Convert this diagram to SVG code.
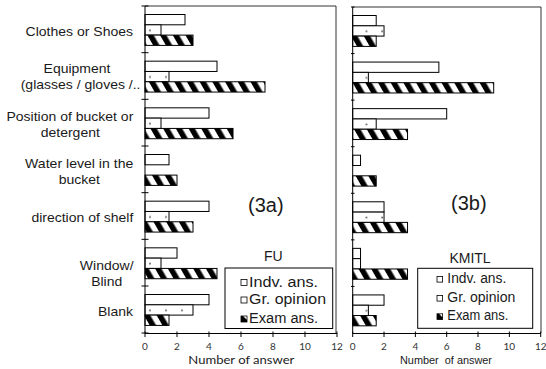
<svg xmlns="http://www.w3.org/2000/svg" width="546" height="369" viewBox="0 0 546 369">
<defs>
<pattern id="hatch" patternUnits="userSpaceOnUse" width="11" height="11" patternTransform="rotate(-30)">
<rect width="11" height="11" fill="#fff"/>
<rect width="5.5" height="11" fill="#000"/>
</pattern>
<pattern id="dotsL" patternUnits="userSpaceOnUse" x="145" y="6" width="16" height="46.667">
<rect width="16" height="46.667" fill="#fff"/>
<circle cx="5" cy="24.3" r="0.9" fill="#555"/>
</pattern>
<pattern id="dotsR" patternUnits="userSpaceOnUse" x="352.7" y="7" width="15.67" height="46.57">
<rect width="15.67" height="46.57" fill="#fff"/>
<circle cx="13.8" cy="24.3" r="0.9" fill="#555"/>
</pattern>
</defs>
<style>
rect.b{stroke:#000;stroke-width:1;height:10.3px}
.i{fill:#fff}
.gl{fill:url(#dotsL)}
.gr{fill:url(#dotsR)}
.e{fill:url(#hatch)}
.ax{stroke:#000;stroke-width:1;fill:none}
.frame{stroke:#333;stroke-width:1;fill:none}
text{font-family:"Liberation Sans",Arial,sans-serif;fill:#1a1a1a}
.cat{font-size:13.5px}
.end{text-anchor:end}
.mid{text-anchor:middle}
.tk{font-family:Lato,"Open Sans",sans-serif;font-size:10px;text-anchor:middle;fill:#333}
.lg{font-size:14px}
.big{font-size:20px}
</style>
<rect width="546" height="369" fill="#fff"/>

<g id="category-labels">
<text class="cat end" x="133" y="35.5" textLength="107.4" lengthAdjust="spacingAndGlyphs">Clothes or Shoes</text>
<text class="cat mid" x="77" y="72.5" textLength="66.9" lengthAdjust="spacingAndGlyphs">Equipment</text>
<text class="cat" x="20.7" y="89" textLength="119.8" lengthAdjust="spacingAndGlyphs">(glasses / gloves /..</text>
<text class="cat end" x="133.3" y="121.3" textLength="126.8" lengthAdjust="spacingAndGlyphs">Position of bucket or</text>
<text class="cat mid" x="70.3" y="136.8" textLength="59.2" lengthAdjust="spacingAndGlyphs">detergent</text>
<text class="cat end" x="133.3" y="168" textLength="108.2" lengthAdjust="spacingAndGlyphs">Water level in the</text>
<text class="cat mid" x="79.3" y="183.5" textLength="41.2" lengthAdjust="spacingAndGlyphs">bucket</text>
<text class="cat end" x="133.3" y="222" textLength="101.9" lengthAdjust="spacingAndGlyphs">direction of shelf</text>
<text class="cat mid" x="106.7" y="270.3" textLength="53.7" lengthAdjust="spacingAndGlyphs">Window/</text>
<text class="cat mid" x="106.7" y="285.8" textLength="31.1" lengthAdjust="spacingAndGlyphs">Blind</text>
<text class="cat end" x="133" y="316" textLength="35" lengthAdjust="spacingAndGlyphs">Blank</text>
</g>

<g id="chart-3a">
<path class="frame" d="M145 6H336V333"/>
<g id="bars-3a">
<rect class="b i" x="145" y="14.5" width="40"/>
<rect class="b gl" x="145" y="24.8" width="16"/>
<rect class="b e" x="145" y="35.1" width="48"/>
<rect class="b i" x="145" y="61.17" width="72"/>
<rect class="b gl" x="145" y="71.47" width="24"/>
<rect class="b e" x="145" y="81.77" width="120"/>
<rect class="b i" x="145" y="107.83" width="64"/>
<rect class="b gl" x="145" y="118.13" width="16"/>
<rect class="b e" x="145" y="128.43" width="88"/>
<rect class="b i" x="145" y="154.5" width="24"/>
<rect class="b e" x="145" y="175.1" width="32"/>
<rect class="b i" x="145" y="201.17" width="64"/>
<rect class="b gl" x="145" y="211.47" width="24"/>
<rect class="b e" x="145" y="221.77" width="48"/>
<rect class="b i" x="145" y="247.83" width="32"/>
<rect class="b gl" x="145" y="258.13" width="16"/>
<rect class="b e" x="145" y="268.43" width="72"/>
<rect class="b i" x="145" y="294.5" width="64"/>
<rect class="b gl" x="145" y="304.8" width="48"/>
<rect class="b e" x="145" y="315.1" width="24"/>
</g>
<path class="ax" d="M145 6V333.5H337M141.5 6H148.5M141.5 52.67H148.5M141.5 99.33H148.5M141.5 146H148.5M141.5 192.67H148.5M141.5 239.33H148.5M141.5 286H148.5M141.5 333H148.5M145 331.5V337M177 331.5V337M209 331.5V337M241 331.5V337M273 331.5V337M305 331.5V337M337 331.5V337"/>
<text class="tk" x="145" y="349.5">0</text>
<text class="tk" x="177" y="349.5">2</text>
<text class="tk" x="209" y="349.5">4</text>
<text class="tk" x="241" y="349.5">6</text>
<text class="tk" x="273" y="349.5">8</text>
<text class="tk" x="305" y="349.5">10</text>
<text class="tk" x="337" y="349.5">12</text>
<text x="188.3" y="364" style="font-family:Lato,'Open Sans',sans-serif;font-size:11.5px;fill:#222" textLength="106" lengthAdjust="spacingAndGlyphs">Number of answer</text>
<text class="big" x="248" y="212">(3a)</text>
<g id="legend-3a">
<rect x="225" y="268" width="107.7" height="60.5" fill="#fff" stroke="#000" stroke-width="1"/>
<text class="mid" x="273.3" y="261" style="font-size:14px">FU</text>
<rect x="241" y="279.5" width="6" height="6" fill="#fff" stroke="#000" stroke-width="0.8"/>
<rect x="241" y="297" width="6" height="6" fill="#fff" stroke="#000" stroke-width="0.8"/>
<rect x="241" y="316" width="6" height="6" fill="#fff" stroke="#000" stroke-width="0.8"/>
<polygon points="241,316 243,316 247,320 247,322 241,322" fill="#000"/>
<text class="lg" x="249" y="286.5" textLength="69" lengthAdjust="spacingAndGlyphs">Indv. ans.</text>
<text class="lg" x="249" y="304" textLength="77" lengthAdjust="spacingAndGlyphs">Gr. opinion</text>
<text class="lg" x="249" y="323" textLength="69" lengthAdjust="spacingAndGlyphs">Exam ans.</text>
</g>
</g>

<g id="chart-3b">
<path class="frame" d="M352.7 7H541V333"/>
<g id="bars-3b">
<rect class="b i" x="352.7" y="15.5" width="23.5"/>
<rect class="b gr" x="352.7" y="25.8" width="31.33"/>
<rect class="b e" x="352.7" y="36.1" width="23.5"/>
<rect class="b i" x="352.7" y="62.07" width="86.17"/>
<rect class="b gr" x="352.7" y="72.37" width="15.67"/>
<rect class="b e" x="352.7" y="82.67" width="141"/>
<rect class="b i" x="352.7" y="108.64" width="94"/>
<rect class="b gr" x="352.7" y="118.94" width="23.5"/>
<rect class="b e" x="352.7" y="129.24" width="54.83"/>
<rect class="b i" x="352.7" y="155.21" width="7.83"/>
<rect class="b e" x="352.7" y="175.81" width="23.5"/>
<rect class="b i" x="352.7" y="201.79" width="31.33"/>
<rect class="b gr" x="352.7" y="212.09" width="31.33"/>
<rect class="b e" x="352.7" y="222.39" width="54.83"/>
<rect class="b i" x="352.7" y="248.36" width="7.83"/>
<rect class="b gr" x="352.7" y="258.66" width="7.83"/>
<rect class="b e" x="352.7" y="268.96" width="54.83"/>
<rect class="b i" x="352.7" y="294.93" width="31.33"/>
<rect class="b gr" x="352.7" y="305.23" width="15.67"/>
<rect class="b e" x="352.7" y="315.53" width="23.5"/>
</g>
<path class="ax" d="M352.7 7V333.5H541M351 7H354.5M351 53.57H354.5M351 100.14H354.5M351 146.71H354.5M351 193.29H354.5M351 239.86H354.5M351 286.43H354.5M352.7 331.5V337M384.03 331.5V337M415.37 331.5V337M446.7 331.5V337M478.03 331.5V337M509.37 331.5V337M540.7 331.5V337"/>
<text class="tk" x="352.7" y="349.5">0</text>
<text class="tk" x="384.03" y="349.5">2</text>
<text class="tk" x="415.37" y="349.5">4</text>
<text class="tk" x="446.7" y="349.5">6</text>
<text class="tk" x="478.03" y="349.5">8</text>
<text class="tk" x="509.37" y="349.5">10</text>
<text class="tk" x="540.7" y="349.5">12</text>
<text x="400" y="363.5" style="font-size:11px" textLength="92" lengthAdjust="spacingAndGlyphs" xml:space="preserve">Number  of answer</text>
<text class="big" x="451" y="210">(3b)</text>
<g id="legend-3b">
<rect x="417.7" y="268.3" width="115" height="60" fill="#fff" stroke="#000" stroke-width="1"/>
<text class="mid" x="470" y="263" style="font-size:14px">KMITL</text>
<rect x="437" y="276.5" width="5.6" height="5.6" fill="#fff" stroke="#000" stroke-width="0.8"/>
<rect x="437" y="295.5" width="5.6" height="5.6" fill="#fff" stroke="#000" stroke-width="0.8"/>
<rect x="437" y="313.8" width="5.6" height="5.6" fill="#fff" stroke="#000" stroke-width="0.8"/>
<polygon points="437,313.8 439,313.8 442.6,317.4 442.6,319.4 437,319.4" fill="#000"/>
<text class="lg" x="447.3" y="282.7" textLength="59" lengthAdjust="spacingAndGlyphs">Indv. ans.</text>
<text class="lg" x="447.3" y="301.7" textLength="68" lengthAdjust="spacingAndGlyphs">Gr. opinion</text>
<text class="lg" x="447.3" y="320" textLength="61" lengthAdjust="spacingAndGlyphs">Exam ans.</text>
</g>
</g>
</svg>
